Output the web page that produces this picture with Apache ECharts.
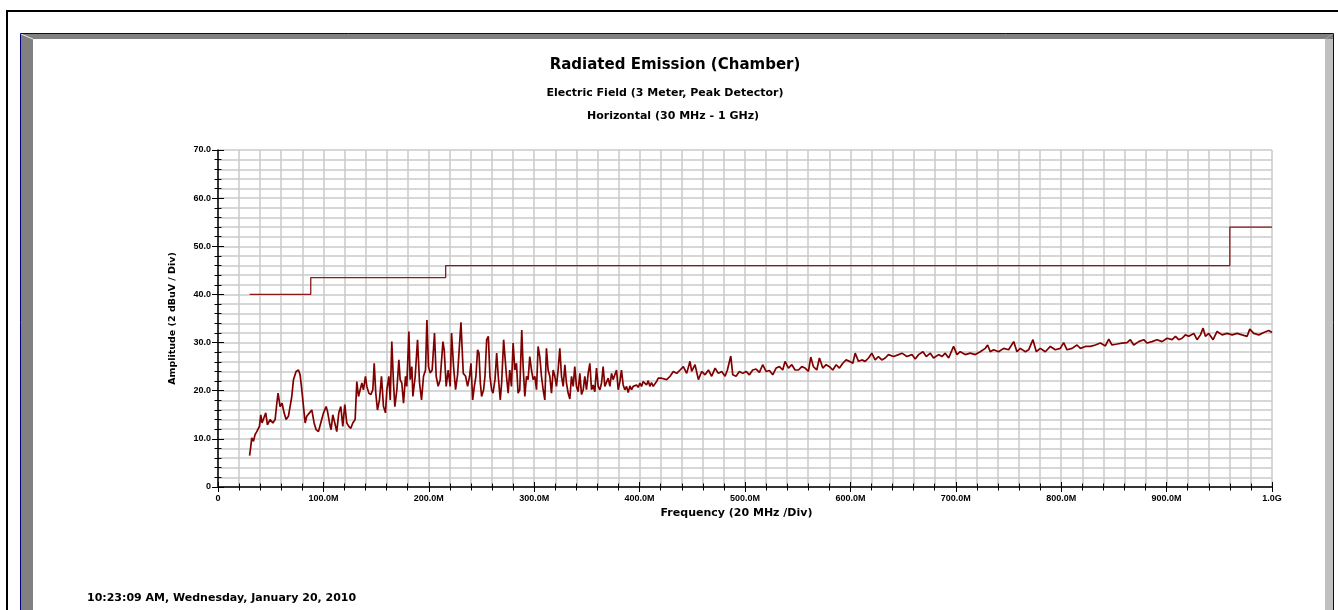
<!DOCTYPE html>
<html>
<head>
<meta charset="utf-8">
<script src="https://cdn.jsdelivr.net/npm/echarts@6/dist/echarts.min.js"></script>
<style>
html,body{margin:0;padding:0;background:#ffffff;overflow:hidden;}
#chart{width:1338px;height:610px;}
</style>
</head>
<body>
<div id="chart"></div>
<script>
// ---- texts ----
const titleText = 'Radiated Emission (Chamber)';
const subTitle1 = 'Electric Field (3 Meter, Peak Detector)';
const subTitle2 = 'Horizontal (30 MHz - 1 GHz)';
const xAxisName = 'Frequency (20 MHz /Div)';
const yAxisName = 'Amplitude (2 dBuV / Div)';
const stampText = '10:23:09 AM, Wednesday, January 20, 2010';

// ---- tick labels ----
const xTickLabels = ['0','100.0M','200.0M','300.0M','400.0M','500.0M','600.0M','700.0M','800.0M','900.0M','1.0G'];
const yTickLabels = ['0','10.0','20.0','30.0','40.0','50.0','60.0','70.0'];

// ---- limit line (MHz, dBuV) ----
const limitFreq = [30, 88, 216, 960, 1000];
const limitLevel = [40, 43.5, 46, 54, 54];

// ---- measured trace (MHz, dBuV) ----
const freqMHz = [
30,31.1,32.0,33.6,35.2,36.8,39.3,40.6,41.8,44.1,
45.3,46.9,49.4,52.0,54.2,55.8,57.0,58.9,60.8,62.7,
64.6,66.8,68.4,70.0,71.6,74.1,76.3,77.9,79.5,81.1,
82.7,84.2,86.8,89.0,91.2,93.1,95.3,97.5,100.1,102.6,
103.9,105.8,107.3,108.9,110.8,112.7,114.6,116.5,118.4,120.3,
122.2,124.1,126.0,127.9,130.1,131.7,133.3,134.9,136.5,138.0,
139.9,141.2,143.1,145.0,146.9,148.2,149.7,151.3,153.2,155.1,
157.0,158.9,160.2,162.1,163.4,164.9,166.5,167.8,169.7,171.6,
172.8,174.4,176.0,177.9,179.1,181.1,182.3,183.9,184.9,187.1,
189.3,191.2,193.1,195.0,196.9,198.2,199.7,201.3,203.2,205.4,
207.0,208.9,210.8,213.4,214.6,216.5,218.4,220.3,221.6,223.5,
225.4,227.3,230.5,232.7,234.9,236.8,238.7,240.0,241.6,243.2,
244.7,246.3,247.6,248.9,250.1,252.0,253.3,254.9,256.5,258.0,
259.6,260.9,262.8,264.4,265.9,267.8,269.1,271.0,273.7,275.3,
276.8,278.4,280.0,281.6,283.2,284.7,286.3,288.2,289.5,291.1,
292.7,294.2,295.8,297.4,299.0,300.6,302.2,303.7,305.3,306.9,
308.5,310.1,311.6,313.2,314.8,316.4,318.0,319.6,321.1,322.7,
324.3,325.9,327.5,329.1,330.6,332.2,333.8,335.4,337.0,338.5,
340.1,341.7,343.3,344.9,346.5,348.0,349.6,351.2,352.8,354.4,
355.9,357.5,359.1,360.7,362.3,363.9,365.4,367.0,368.6,370.2,
371.8,373.4,374.9,376.5,378.1,379.7,381.3,382.8,384.4,386.0,
387.6,389.2,390.8,392.3,393.9,395.5,397.1,398.7,400.3,401.8,
403.4,405.0,406.6,408.2,409.7,411.3,412.9,414.5,416.1,417.7,
419.2,420.9,425.7,428.9,432.0,435.2,438.4,441.5,444.7,447.8,
449.4,452.6,455.8,458.9,462.1,465.3,468.4,471.6,474.7,477.9,
481.1,483.3,486.5,488.4,491.5,494.7,497.8,501.0,504.2,507.3,
510.5,513.7,516.8,520.0,523.2,526.3,529.5,532.7,535.8,538.0,
541.2,544.4,547.5,550.7,553.9,557.0,560.2,562.4,564.9,568.1,
570.6,573.8,577.0,580.1,583.3,586.5,589.6,592.8,595.9,599.1,
602.3,604.5,607.7,610.8,614.0,617.2,620.3,623.5,626.6,629.8,
633.0,636.1,640.9,645.7,648.9,653.6,658.4,661.5,664.7,668.8,
672.0,675.8,678.9,683.7,686.8,690.0,693.2,697.9,701.1,704.2,
709.0,713.7,718.5,723.2,728.0,730.2,732.7,735.9,740.6,745.4,
750.1,754.9,758.0,761.2,766.0,769.1,773.2,776.4,780.2,784.9,
789.7,794.4,799.2,802.3,805.5,810.3,815.0,818.2,822.9,827.7,
832.4,837.2,841.9,845.1,848.2,853.0,857.7,862.5,865.6,868.8,
873.5,878.3,881.5,886.2,890.9,895.7,900.4,905.2,908.4,911.5,
914.7,917.8,921.0,925.8,928.9,932.1,934.6,936.8,940.0,944.1,
947.9,952.7,957.4,962.2,966.9,971.6,976.4,978.9,982.7,987.5,
992.2,996.9,1000
];
const levelDbuV = [
6.5,8.4,10.2,9.5,10.9,11.5,12.6,15.0,13.3,14.7,
15.4,12.9,14.0,13.3,14.0,17.4,19.5,16.7,17.4,15.4,
14.0,14.7,16.7,18.8,22.3,24.0,24.3,23.3,20.2,16.7,
13.3,14.7,15.4,16.0,13.3,11.9,11.5,13.3,15.4,16.7,
15.7,13.3,11.9,15.0,13.3,11.5,15.4,16.7,12.6,17.1,
13.3,12.6,12.2,13.3,14.0,21.9,18.8,20.2,21.6,20.2,
23.0,20.9,19.5,19.2,20.2,25.7,19.5,16.0,18.1,23.0,
16.7,15.4,20.2,23.0,18.1,30.2,21.6,16.7,20.2,26.4,
22.3,21.6,17.4,23.0,20.9,32.3,22.3,25.0,18.8,23.0,
30.6,21.6,18.1,23.0,24.3,34.7,25.0,23.7,24.3,32.0,
23.0,20.9,22.3,30.2,28.5,20.9,24.3,20.9,32.0,25.0,
20.2,23.3,34.2,23.6,23.0,20.9,23.0,25.7,18.1,20.9,
23.0,28.5,27.8,21.6,18.8,20.2,23.0,30.6,31.3,23.0,
20.2,19.5,22.3,27.8,23.0,18.1,21.6,30.6,23.0,19.5,
24.3,20.9,29.9,24.3,25.7,19.5,20.2,32.6,25.0,18.8,
23.0,22.3,27.1,24.3,22.3,23.0,20.2,29.2,27.1,23.0,
20.2,18.1,28.8,24.3,23.0,19.5,24.3,23.0,20.9,24.3,
28.8,23.0,20.9,25.4,21.6,19.5,18.3,23.0,20.9,25.0,
20.9,19.8,23.6,19.2,20.2,23.0,20.2,23.6,25.7,20.2,
21.2,19.8,24.7,20.9,20.2,21.6,25.0,20.9,20.5,22.6,
20.9,23.6,22.3,22.3,24.3,20.2,21.9,24.3,21.2,20.2,
20.9,19.6,21.0,20.2,20.9,20.5,21.2,20.7,21.6,20.9,
21.9,22.3,21.2,22.1,20.9,21.7,20.9,21.2,21.9,22.6,
23.0,22.6,22.3,23.0,24.0,23.6,24.3,25.0,23.6,26.1,
24.0,25.4,22.3,24.0,23.3,24.3,23.0,24.7,23.6,24.0,
23.0,24.3,27.2,23.3,23.0,24.0,23.6,24.0,23.3,24.3,
24.5,23.8,25.4,24.0,24.2,23.3,24.7,25.0,24.3,26.1,
24.7,25.4,24.3,24.3,25.0,24.7,24.0,27.0,25.0,24.3,
26.8,24.7,25.4,25.0,24.3,25.4,24.7,25.7,26.4,26.1,
25.7,27.8,26.1,26.4,26.1,26.8,27.8,26.4,27.1,26.4,
26.8,27.5,27.1,27.5,27.8,27.1,27.5,26.6,27.5,28.1,
27.1,27.8,26.8,27.5,27.1,27.8,26.8,29.2,27.5,28.1,
27.5,27.8,27.5,28.1,28.8,29.5,28.1,28.5,28.1,28.8,
28.5,30.2,28.1,28.8,28.1,28.5,30.6,28.1,28.8,28.1,
29.2,28.5,28.8,30.0,28.5,28.8,29.5,28.8,29.2,29.2,
29.5,29.9,29.3,30.7,29.5,29.7,29.9,30.0,30.6,29.5,
30.2,30.6,29.9,30.2,30.6,30.2,30.9,30.6,31.3,30.6,
30.9,31.6,31.3,31.9,30.6,31.6,33.0,31.3,31.9,30.6,
32.3,31.6,31.9,31.6,31.9,31.6,31.3,32.8,31.9,31.6,
32.1,32.5,32.1
];

// ---- styling constants ----
const BOLD_FONT = 'DejaVu Sans';
const TICK_FONT = 'Liberation Sans';
const GRID_COLOR = '#cacaca';
const TRACE_COLOR = '#800000';
const LIMIT_COLOR = '#8b1a1a';

const traceData = freqMHz.map((f, i) => [f, levelDbuV[i]]);
const limitData = limitFreq.map((f, i) => [f, limitLevel[i]]);

const tickStyle = { color: '#000', width: 1 };

const chart = echarts.init(document.getElementById('chart'), null, { renderer: 'canvas', width: 1338, height: 610 });

const option = {
  animation: false,
  backgroundColor: '#ffffff',
  title: [
    { text: titleText, left: 675, top: 58, textAlign: 'center', padding: 0,
      textStyle: { fontFamily: BOLD_FONT, fontWeight: 'bold', fontSize: 15, color: '#000' } },
    { text: subTitle1, left: 665, top: 88, textAlign: 'center', padding: 0,
      textStyle: { fontFamily: BOLD_FONT, fontWeight: 'bold', fontSize: 11, color: '#000' } },
    { text: subTitle2, left: 673, top: 111, textAlign: 'center', padding: 0,
      textStyle: { fontFamily: BOLD_FONT, fontWeight: 'bold', fontSize: 11, color: '#000' } },
    { text: stampText, left: 87, top: 593, padding: 0,
      textStyle: { fontFamily: BOLD_FONT, fontWeight: 'bold', fontSize: 11, color: '#000' } }
  ],
  grid: { left: 218, top: 150, width: 1054, height: 337, containLabel: false },
  xAxis: [
    {
      type: 'value', min: 0, max: 1000, interval: 100, position: 'bottom',
      name: xAxisName, nameLocation: 'middle', nameGap: 20,
      nameTextStyle: { fontFamily: BOLD_FONT, fontWeight: 'bold', fontSize: 11, color: '#000', padding: [0, 17, 0, 0] },
      axisLine: { show: true, onZero: false, lineStyle: { color: '#000', width: 1.5 } },
      axisTick: { show: true, length: 5, lineStyle: tickStyle },
      minorTick: { show: true, splitNumber: 5, length: 3.5, lineStyle: tickStyle },
      axisLabel: { margin: 7, showMinLabel: true, showMaxLabel: true, hideOverlap: false,
        fontFamily: TICK_FONT, fontWeight: 'bold', fontSize: 9, color: '#000',
        formatter: v => xTickLabels[Math.round(v / 100)] },
      splitLine: { show: true, lineStyle: { color: GRID_COLOR, width: 1.5 } },
      minorSplitLine: { show: true, lineStyle: { color: GRID_COLOR, width: 1.5 } }
    },
    {
      type: 'value', min: 0, max: 1000, interval: 100, position: 'bottom',
      axisLine: { show: false, onZero: false },
      axisTick: { show: true, inside: true, length: 5, lineStyle: tickStyle },
      minorTick: { show: true, splitNumber: 5, length: 3.5, lineStyle: tickStyle },
      axisLabel: { show: false },
      splitLine: { show: false }
    }
  ],
  yAxis: [
    {
      type: 'value', min: 0, max: 70, interval: 10, position: 'left',
      name: yAxisName, nameLocation: 'middle', nameGap: 40, nameRotate: 90,
      nameTextStyle: { fontFamily: BOLD_FONT, fontWeight: 'bold', fontSize: 9.5, color: '#000' },
      axisLine: { show: true, onZero: false, lineStyle: { color: '#000', width: 1.5 } },
      axisTick: { show: true, length: 6, lineStyle: tickStyle },
      minorTick: { show: true, splitNumber: 5, length: 3.5, lineStyle: tickStyle },
      axisLabel: { margin: 7, showMinLabel: true, showMaxLabel: true,
        fontFamily: TICK_FONT, fontWeight: 'bold', fontSize: 9, color: '#000',
        formatter: v => yTickLabels[Math.round(v / 10)] },
      splitLine: { show: true, lineStyle: { color: GRID_COLOR, width: 1.5 } },
      minorSplitLine: { show: true, lineStyle: { color: GRID_COLOR, width: 1.5 } }
    },
    {
      type: 'value', min: 0, max: 70, interval: 10, position: 'left',
      axisLine: { show: false, onZero: false },
      axisTick: { show: true, inside: true, length: 6, lineStyle: tickStyle },
      minorTick: { show: true, splitNumber: 5, length: 3.5, lineStyle: tickStyle },
      axisLabel: { show: false },
      splitLine: { show: false }
    }
  ],
  series: [
    {
      name: 'Limit', type: 'line', data: limitData, step: 'end',
      xAxisIndex: 0, yAxisIndex: 0,
      showSymbol: false, symbol: 'none',
      lineStyle: { color: LIMIT_COLOR, width: 1.3 }, z: 3
    },
    {
      name: 'Measured', type: 'line', data: traceData,
      xAxisIndex: 0, yAxisIndex: 0,
      showSymbol: false, symbol: 'none',
      lineStyle: { color: TRACE_COLOR, width: 1.7 }, z: 4
    }
  ],
  graphic: [
    // outer black frame (top and left)
    { type: 'rect', shape: { x: 6, y: 10, width: 1332, height: 2 }, style: { fill: '#000' }, silent: true },
    { type: 'rect', shape: { x: 6, y: 10, width: 2, height: 600 }, style: { fill: '#000' }, silent: true },
    // inner panel bevel
    { type: 'rect', shape: { x: 21, y: 34, width: 1312, height: 5 }, style: { fill: '#808080' }, silent: true },
    { type: 'rect', shape: { x: 21, y: 34, width: 12, height: 576 }, style: { fill: '#808080' }, silent: true },
    { type: 'rect', shape: { x: 1325, y: 39, width: 8, height: 571 }, style: { fill: '#c0c0c0' }, silent: true },
    { type: 'line', shape: { x1: 21, y1: 34, x2: 33, y2: 39 }, style: { stroke: '#e8e8e8', lineWidth: 1 }, silent: true },
    { type: 'line', shape: { x1: 1325, y1: 39, x2: 1333, y2: 34 }, style: { stroke: '#a0a0a0', lineWidth: 1 }, silent: true },
    // navy outline
    { type: 'rect', shape: { x: 20.5, y: 33.5, width: 1313, height: 600 }, style: { fill: 'none', stroke: '#000080', lineWidth: 1 }, silent: true }
  ]
};

chart.setOption(option);
</script>
</body>
</html>
